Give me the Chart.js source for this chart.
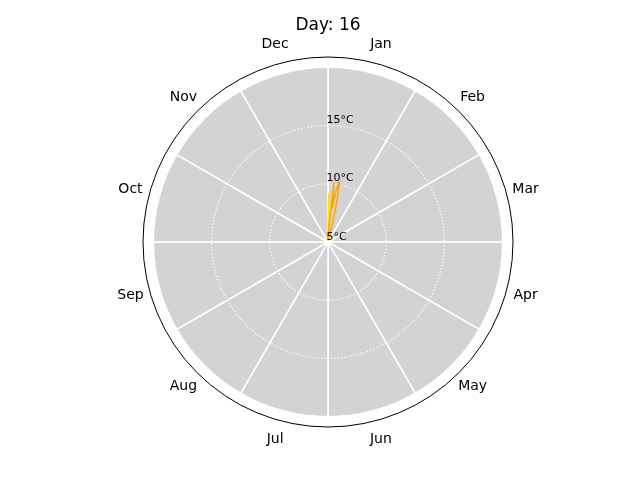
<!DOCTYPE html>
<html>
<head>
<meta charset="utf-8">
<script src="https://cdn.jsdelivr.net/npm/chart.js@4/dist/chart.umd.min.js"></script>
<style>
html,body{margin:0;padding:0;background:#fff;}
canvas{display:block;}
</style>
</head>
<body>
<canvas id="c" width="640" height="480"></canvas>
<script>
// ---- data ----
const titleText = 'Day: 16';
const months = ['Jan','Feb','Mar','Apr','May','Jun','Jul','Aug','Sep','Oct','Nov','Dec'];
const monthBarHeights = [20,20,20,20,20,20,20,20,20,20,20,20];
const radialTickValues = [5, 10, 15];
const radialTickLabels = ['5°C', '10°C', '15°C'];
const rMin = 5;
const rMax = 20.885;
const daysInYear = 365;
const dayNumbers = [1,2,3,4,5,6,7,8,9,10,11,12,13,14,15,16];
const tempsYellow = [5.3, 9.2, 8.8, 8.0, 7.0, 6.2, 5.6, 5.3, 5.2, 5.4, 5.6, 5.3, 5.1, 5.2, 5.4, 5.3];
const tempsOrange = [5.2, 5.6, 5.4, 6.0, 6.5, 7.2, 10.1, 7.9, 8.6, 9.4, 9.9, 10.3, 9.1, 8.0, 6.6, 5.6];
const seriesColors = ['#ffe600', '#ffa500'];

const overlay = {
  id: 'overlay',
  afterDraw(chart) {
    const s = chart.scales.r;
    const ctx = chart.ctx;
    ctx.save();
    [tempsYellow, tempsOrange].forEach((vals, k) => {
      ctx.beginPath();
      vals.forEach((t, i) => {
        const idx = (dayNumbers[i] - 1) / daysInYear * months.length;
        const p = s.getPointPositionForValue(idx, t);
        if (i === 0) ctx.moveTo(p.x, p.y); else ctx.lineTo(p.x, p.y);
      });
      ctx.strokeStyle = seriesColors[k];
      ctx.lineWidth = 1.5;
      ctx.lineJoin = 'round';
      ctx.stroke();
    });
    ctx.fillStyle = '#000';
    ctx.font = '11px "DejaVu Sans"';
    ctx.textAlign = 'left';
    ctx.textBaseline = 'alphabetic';
    radialTickValues.forEach((v, i) => {
      const d = s.getDistanceFromCenterForValue(v);
      ctx.fillText(radialTickLabels[i], s.xCenter - 1.5, s.yCenter - d - 2.5);
    });
    ctx.font = '14px "DejaVu Sans"';
    ctx.textAlign = 'center';
    ctx.textBaseline = 'middle';
    months.forEach((m, i) => {
      const p = s.getPointPosition(i + 0.5, s.drawingArea + 19.5);
      ctx.fillText(m, p.x, p.y);
    });
    ctx.restore();
  }
};

new Chart(document.getElementById('c').getContext('2d'), {
  type: 'polarArea',
  data: {
    labels: months,
    datasets: [{
      data: monthBarHeights,
      backgroundColor: '#d3d3d3',
      borderColor: '#ffffff',
      borderWidth: 1.5
    }]
  },
  options: {
    responsive: false,
    animation: false,
    devicePixelRatio: 1,
    layout: { padding: { top: 0, left: 16, right: 0, bottom: 53 } },
    plugins: {
      legend: { display: false },
      tooltip: { enabled: false },
      title: {
        display: true,
        text: titleText,
        color: '#000',
        font: { family: 'DejaVu Sans', size: 17, weight: 'normal', lineHeight: 1.2 },
        padding: { top: 15, bottom: 21.6 }
      }
    },
    scales: {
      r: {
        min: rMin,
        max: rMax,
        startAngle: 0,
        afterBuildTicks: (sc) => {
          sc.ticks = radialTickValues.concat([rMax]).map(v => ({ value: v }));
        },
        grid: {
          z: 1,
          circular: true,
          color: (c) => (c.tick && c.tick.value === rMax) ? '#000000' : '#ffffff',
          lineWidth: (c) => (c.tick && c.tick.value === rMax) ? 1 : 1.2
        },
        border: {
          dash: (c) => (c.tick && c.tick.value === rMax) ? [] : [1.3, 2]
        },
        angleLines: { display: false },
        ticks: { display: false },
        pointLabels: { display: false }
      }
    }
  },
  plugins: [overlay]
});
</script>
</body>
</html>
